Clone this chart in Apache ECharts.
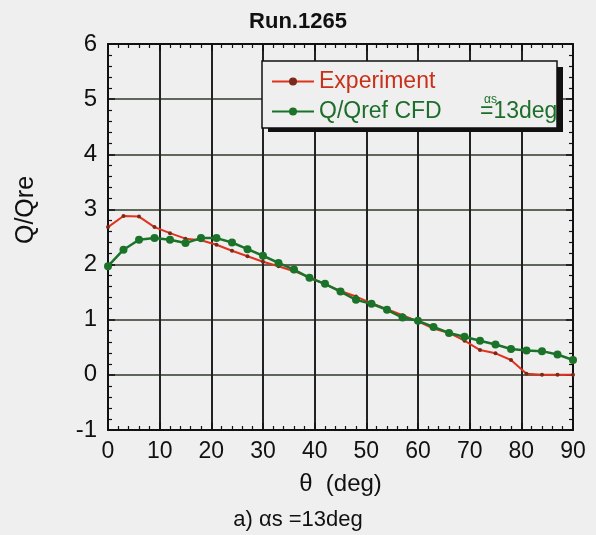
<!DOCTYPE html>
<html>
<head>
<meta charset="utf-8">
<title>Run.1265</title>
<script src="https://cdn.jsdelivr.net/npm/echarts@6/dist/echarts.min.js"></script>
<style>
  html, body { margin: 0; padding: 0; background: #efefef; }
  #main { width: 596px; height: 535px; }
</style>
</head>
<body>
<div id="main"></div>
<script>
// theta (deg) sample points
var thetas = [0, 3, 6, 9, 12, 15, 18, 21, 24, 27, 30, 33, 36, 39, 42, 45, 48, 51, 54, 57, 60, 63, 66, 69, 72, 75, 78, 81, 84, 87, 90];
// Experiment
var expVals = [2.68, 2.88, 2.87, 2.68, 2.57, 2.47, 2.44, 2.36, 2.25, 2.15, 2.05, 1.97, 1.88, 1.77, 1.64, 1.52, 1.42, 1.30, 1.19, 1.08, 0.97, 0.84, 0.76, 0.62, 0.45, 0.39, 0.27, 0.02, 0.0, 0.0, 0.0];
// Q/Qref CFD
var cfdVals = [1.97, 2.27, 2.45, 2.48, 2.45, 2.39, 2.48, 2.48, 2.40, 2.28, 2.16, 2.03, 1.91, 1.76, 1.65, 1.51, 1.36, 1.29, 1.18, 1.04, 0.98, 0.87, 0.76, 0.69, 0.62, 0.55, 0.47, 0.44, 0.43, 0.37, 0.27];

function pairs(ys) {
  var out = [];
  for (var i = 0; i < thetas.length; i++) out.push([thetas[i], ys[i]]);
  return out;
}

var font = '"Liberation Sans", Arial, sans-serif';
var chart = echarts.init(document.getElementById('main'));

// frame + inward ticks, shared by all four sides
var tickCommon = {
  axisLine: { show: true, onZero: false, lineStyle: { color: '#111', width: 2 } },
  axisTick: { show: true, inside: true, length: 7, lineStyle: { color: '#111', width: 1.5 } },
  minorTick: { show: true, splitNumber: 5, length: 4, lineStyle: { color: '#111', width: 1.2 } }
};

chart.setOption({
  backgroundColor: '#efefef',
  animation: false,
  title: {
    text: 'Run.1265',
    left: 'center',
    top: 6,
    textStyle: { fontFamily: font, fontSize: 22, fontWeight: 'bold', color: '#111' }
  },
  grid: { left: 108, right: 23, top: 44, bottom: 105 },
  legend: {
    orient: 'vertical',
    left: 266,
    top: 65,
    z: 100,
    itemWidth: 42,
    itemHeight: 10,
    itemGap: 7,
    textStyle: { fontFamily: font, fontSize: 23 },
    data: [
      { name: 'Experiment', textStyle: { color: '#c8301a' } },
      { name: 'Q/Qref CFD', textStyle: { color: '#1d6e2a' } }
    ]
  },
  xAxis: [
    Object.assign({
      type: 'value', min: 0, max: 90, interval: 10,
      name: 'θ  (deg)', nameLocation: 'middle', nameGap: 42,
      nameTextStyle: { fontFamily: font, fontSize: 24, color: '#111' },
      axisLabel: { fontFamily: font, fontSize: 23, color: '#111', margin: 10 },
      splitLine: { show: true, lineStyle: { color: '#222', width: 2 } }
    }, tickCommon),
    Object.assign({
      type: 'value', min: 0, max: 90, interval: 10, position: 'top',
      axisLabel: { show: false }, splitLine: { show: false }
    }, tickCommon)
  ],
  yAxis: [
    Object.assign({
      type: 'value', min: -1, max: 6, interval: 1,
      axisLabel: { fontFamily: font, fontSize: 24, color: '#111', margin: 11 },
      splitLine: { show: true, lineStyle: { color: '#2f3a2a', width: 1.6 } }
    }, tickCommon),
    Object.assign({
      type: 'value', min: -1, max: 6, interval: 1, position: 'right',
      axisLabel: { show: false }, splitLine: { show: false }
    }, tickCommon)
  ],
  series: [
    {
      name: 'Experiment',
      type: 'line',
      data: pairs(expVals),
      symbol: 'circle',
      symbolSize: 4,
      lineStyle: { color: '#e0321c', width: 2 },
      itemStyle: { color: '#7a2a1a' },
      z: 3
    },
    {
      name: 'Q/Qref CFD',
      type: 'line',
      data: pairs(cfdVals),
      symbol: 'circle',
      symbolSize: 8,
      lineStyle: { color: '#1b732a', width: 2.5 },
      itemStyle: { color: '#1b732a' },
      z: 4
    }
  ],
  graphic: [
    {
      type: 'rect', z: 90,
      shape: { x: 268, y: 67, width: 295, height: 65 },
      style: { fill: '#111' }
    },
    {
      type: 'rect', z: 91,
      shape: { x: 262, y: 61, width: 295, height: 67 },
      style: { fill: '#efefef', stroke: '#111', lineWidth: 1.5 }
    },
    {
      type: 'text', z: 100, left: 480, top: 100,
      style: { text: '=13deg', fill: '#1d6e2a', font: '23px ' + font }
    },
    {
      type: 'text', z: 101, left: 484, top: 94,
      style: { text: 'αs', fill: '#1d6e2a', font: '12px ' + font }
    },
    {
      type: 'text', z: 100, x: 26, y: 210, rotation: Math.PI / 2,
      style: { text: 'Q/Qre', fill: '#111', font: '25px ' + font, align: 'center', verticalAlign: 'middle' }
    },
    {
      type: 'text', z: 100, left: 'center', top: 509,
      style: { text: 'a) αs =13deg', fill: '#111', font: '22px ' + font }
    }
  ]
});
</script>
</body>
</html>
